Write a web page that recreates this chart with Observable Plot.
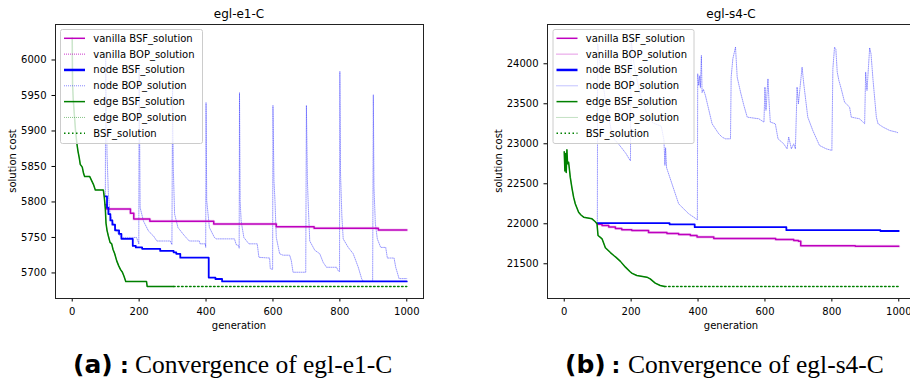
<!DOCTYPE html>
<html><head><meta charset="utf-8">
<script src="https://cdn.jsdelivr.net/npm/d3@7"></script>
<script src="https://cdn.jsdelivr.net/npm/@observablehq/plot@0.6"></script>
<style>
html,body{margin:0;padding:0;background:#fff;overflow:hidden;}
#root{position:relative;width:910px;height:381px;overflow:hidden;}
#root > svg{position:absolute;top:0;}
</style></head><body><div id="root"></div>
<script>
// ---------- data ----------
const panelTitles = ["egl-e1-C", "egl-s4-C"];
const captionTags = ["(a)", "(b)"];
const captionTexts = ["Convergence of egl-e1-C", "Convergence of egl-s4-C"];
const xLabel = "generation";
const yLabel = "solution cost";
const generationTicks = [0, 200, 400, 600, 800, 1000];
const e1CostTicks = [5700, 5750, 5800, 5850, 5900, 5950, 6000];
const s4CostTicks = [21500, 22000, 22500, 23000, 23500, 24000];
const legendLabels = ["vanilla BSF_solution", "vanilla BOP_solution", "node BSF_solution", "node BOP_solution", "edge BSF_solution", "edge BOP_solution", "BSF_solution"];

// egl-e1-C  [generation, cost]
const e1VanillaBSF = [[100,5796],[103,5790],[174,5784],[184,5776],[232,5773],[423,5769],[610,5765],[723,5763],[915,5760.5],[1000,5760.5]];
const e1NodeBSF = [[99,5808],[104,5792],[108,5783],[114,5774],[120,5768],[128,5760],[140,5755],[147,5748],[181,5738],[190,5736],[209,5734],[263,5731],[303,5729],[311,5727],[323,5721.5],[408,5693.5],[428,5691.5],[448,5688],[1000,5688]];
const e1EdgeBSF = [[0,6031],[1,5965],[3,5945],[6,5925],[10,5900],[14,5882],[17,5872],[21,5862],[24,5853],[30,5849],[34,5840],[37,5836],[52,5836],[58,5830],[64,5824],[69,5817],[93,5817],[96,5806],[99,5790],[101,5770],[104,5760],[108,5752],[113,5743],[118,5741],[122,5733],[127,5727],[133,5717],[139,5710],[144,5705],[150,5701],[155,5695],[160,5688],[222,5688],[224,5681],[303,5681]];
const e1NodeBOP = [[99,5808],[100,6010],[102,5940],[104,5868],[108,5812],[113,5783],[123,5769],[138,5755],[148,5750],[192,5750],[198,5743],
 [199,5741],[200,5990],[202,5860],[203,5792],[213,5773],[228,5759],[243,5752],[253,5745],[293,5745],[298,5740],
 [300,5965],[302,5850],[306,5783],[316,5764],[331,5755],[340,5750],[350,5745],[380,5745],[382,5741],[398,5741],[399,5736],
 [400,5940],[402,5802],[410,5764],[425,5750],[430,5748],[485,5748],[490,5740],[498,5738],[499,5735],
 [500,5954],[502,5800],[505,5773],[513,5750],[528,5741],[553,5741],[558,5722],[590,5721],[592,5706],[599,5705],
 [600,5936],[603,5830],[606,5802],[610,5750],[620,5727],[630,5725],[650,5725],[655,5717],[660,5701],[698,5701],
 [700,5936],[703,5830],[706,5790],[710,5745],[725,5732],[740,5727],[750,5715],[760,5708],[790,5708],[795,5703],[799,5702],
 [800,5984],[802,5840],[806,5780],[810,5748],[825,5736],[840,5727],[855,5708],[865,5692],[870,5688],[898,5688],
 [900,5951],[902,5820],[906,5770],[912,5748],[922,5736],[937,5736],[942,5721],[962,5721],[967,5708],[977,5692],[1000,5692]];
const e1BestSolution = [[303,5681],[1000,5681]];

// egl-s4-C  [generation, cost]
const s4VanillaBSF = [[100,21995],[113,21979],[133,21960],[153,21940],[172,21925],[202,21917],[252,21890],[307,21877],[342,21867],[377,21854],[397,21835],[447,21815],[632,21805],[686,21790],[700,21783],[707,21725],[870,21718],[1000,21718]];
const s4NodeBSF = [[100,22008],[315,21992],[390,21958],[664,21920],[945,21910],[1000,21910]];
const s4EdgeBSF = [[0,22900],[2,22660],[4,22880],[6,22640],[8,22925],[10,22750],[13,22770],[15,22700],[18,22583],[23,22450],[28,22333],[33,22250],[43,22145],[50,22110],[58,22083],[83,22062],[93,22025],[98,22000],[101,21854],[108,21830],[113,21812],[123,21700],[138,21640],[148,21604],[155,21580],[168,21530],[183,21458],[197,21400],[203,21380],[217,21354],[247,21333],[257,21312],[272,21258],[287,21229],[300,21217]];
const s4NodeBOP = [[99,22008],[100,24250],[110,23900],[125,23500],[140,23180],[150,23050],[160,23010],[175,22930],[185,22875],[197,22790],
 [198,22790],[200,24300],[210,23950],[225,23650],[245,23400],[265,23260],[290,23220],[298,23050],[301,22730],[303,22950],[306,22700],[322,22500],[332,22375],[342,22250],[357,22187],[372,22125],[387,22083],[398,22050],
 [399,23875],[402,23730],[405,23850],[407,23700],[410,24104],[412,23640],[416,23680],[422,23604],[442,23250],[452,23187],[462,23125],[472,23083],[482,23062],[497,23062],
 [499,23833],[504,24062],[512,24208],[517,23833],[527,23646],[537,23479],[547,23333],[582,23312],[597,23270],
 [600,23708],[603,23417],[609,23812],[612,23542],[616,23271],[631,23250],[639,23062],[656,23000],[666,22937],[671,23083],[679,22937],[686,23000],[691,22937],
 [696,23708],[700,23500],[711,23958],[716,23750],[728,23333],[743,23166],[763,22979],[783,22937],[800,22917],
 [803,23937],[808,24208],[812,24180],[816,23896],[821,23791],[828,23687],[838,23520],[853,23458],[858,23333],[883,23312],[898,23250],
 [901,23896],[905,23666],[913,24200],[917,24125],[923,23800],[933,23333],[938,23250],[953,23208],[973,23166],[993,23146],[1000,23133]];
const s4BestSolution = [[300,21217],[1000,21217]];

// ---------- styles ----------
const MAG = "#bf00bf", BLUE = "#0000ff", GREEN = "#008000";
const X = d => d[0], Y = d => d[1];

function panel(cfg) {
  return Plot.plot({
    width: cfg.width, height: 330,
    marginLeft: cfg.marginLeft, marginRight: cfg.marginRight, marginTop: 24, marginBottom: 32,
    x: {domain: [-50, 1050], ticks: generationTicks, tickSize: 3.5, tickFormat: d => String(d), label: null},
    y: {domain: cfg.yDomain, ticks: cfg.yTicks, tickSize: 3.5, tickFormat: d => String(d), label: null},
    style: {fontFamily: "DejaVu Sans", fontSize: "10px", color: "#000", background: "transparent", overflow: "visible"},
    marks: [
      Plot.line(cfg.nodeBOP, {x: X, y: Y, stroke: BLUE, strokeWidth: 0.8, strokeOpacity: 0.5, strokeDasharray: "1,1.2"}),
      Plot.line(cfg.vanillaBSF, {x: X, y: Y, curve: "step-after", stroke: MAG, strokeWidth: 1.5}),
      Plot.line(cfg.vanillaBSF, {x: X, y: Y, curve: "step-after", stroke: MAG, strokeWidth: 3, strokeOpacity: 0.18}),
      Plot.line(cfg.nodeBSF, {x: X, y: Y, curve: "step-after", stroke: BLUE, strokeWidth: 1.8}),
      Plot.line(cfg.edgeBSF, {x: X, y: Y, stroke: GREEN, strokeWidth: 1.5}),
      Plot.line(cfg.edgeBSF, {x: X, y: Y, stroke: GREEN, strokeWidth: 0.7, strokeOpacity: 0.5, strokeDasharray: "1,1"}),
      Plot.line(cfg.best, {x: X, y: Y, stroke: GREEN, strokeWidth: 1.5, strokeDasharray: "1.5,2.5"}),
      Plot.frame({stroke: "#222", strokeWidth: 1})
    ]
  });
}

const root = document.getElementById("root");
const p1 = panel({width: 455, marginLeft: 55, marginRight: 32, yDomain: [5664, 6050], yTicks: e1CostTicks,
  vanillaBSF: e1VanillaBSF, nodeBSF: e1NodeBSF, edgeBSF: e1EdgeBSF, nodeBOP: e1NodeBOP, best: e1BestSolution});
p1.style.left = "0px";
root.appendChild(p1);
const p2 = panel({width: 470, marginLeft: 92, marginRight: 10, yDomain: [21066, 24491], yTicks: s4CostTicks,
  vanillaBSF: s4VanillaBSF, nodeBSF: s4NodeBSF, edgeBSF: s4EdgeBSF, nodeBOP: s4NodeBOP, best: s4BestSolution});
p2.style.left = "455px";
root.appendChild(p2);

// ---------- overlay: titles, axis labels, legends, captions ----------
const ov = d3.select(root).append("svg").attr("width", 910).attr("height", 381)
  .style("left", "0px").style("font-family", "DejaVu Sans");

const panels = [
  {frameL: 55, frameR: 423, ylabX: 12.5, legX: 60, legW: 142},
  {frameL: 547, frameR: 915, ylabX: 498, legX: 552.5, legW: 141}
];
const legendStyles = [
  {stroke: MAG, w: 1.5, dash: null, op: 1},
  {stroke: MAG, w: 0.8, dash: "1,1", op: 1},
  {stroke: BLUE, w: 2.5, dash: null, op: 1},
  {stroke: BLUE, w: 0.8, dash: "1,1", op: 0.6},
  {stroke: GREEN, w: 1.5, dash: null, op: 1},
  {stroke: GREEN, w: 0.8, dash: "1,1", op: 0.6},
  {stroke: GREEN, w: 1.5, dash: "1.5,2.5", op: 1}
];

panels.forEach((p, i) => {
  const cx = (p.frameL + p.frameR) / 2;
  ov.append("text").attr("x", cx).attr("y", 14).attr("dy", "0.35em").attr("text-anchor", "middle")
    .attr("font-size", 12).text(panelTitles[i]);
  ov.append("text").attr("x", cx).attr("y", 325).attr("dy", "0.35em").attr("text-anchor", "middle")
    .attr("font-size", 10).text(xLabel);
  ov.append("text").attr("transform", `translate(${p.ylabX},161) rotate(-90)`).attr("dy", "0.35em")
    .attr("text-anchor", "middle").attr("font-size", 10).text(yLabel);
  const g = ov.append("g");
  g.append("rect").attr("x", p.legX + 0.5).attr("y", 29.5).attr("width", p.legW).attr("height", 114)
    .attr("rx", 2).attr("fill", "#fff").attr("fill-opacity", 0.8).attr("stroke", "#ccc").attr("stroke-width", 1);
  legendLabels.forEach((lab, j) => {
    const yy = 38.3 + j * 15.83;
    const s = legendStyles[j];
    g.append("line").attr("x1", p.legX + 4).attr("x2", p.legX + 25).attr("y1", yy).attr("y2", yy)
      .attr("stroke", s.stroke).attr("stroke-width", s.w).attr("stroke-opacity", s.op)
      .attr("stroke-dasharray", s.dash);
    g.append("text").attr("x", p.legX + 33.3).attr("y", yy).attr("dy", "0.35em").attr("font-size", 10).text(lab);
  });
});

const caps = [{tagX: 73, colonX: 124.5, textX: 135}, {tagX: 565, colonX: 616, textX: 628}];
caps.forEach((c, i) => {
  ov.append("text").attr("x", c.tagX).attr("y", 373).attr("font-family", "DejaVu Sans").attr("font-weight", "bold")
    .attr("font-size", 25).text(captionTags[i]);
  ov.append("text").attr("x", c.colonX).attr("y", 373).attr("text-anchor", "middle").attr("font-family", "DejaVu Sans")
    .attr("font-weight", "bold").attr("font-size", 22).text(":");
  ov.append("text").attr("x", c.textX).attr("y", 373).attr("font-family", "Liberation Serif")
    .attr("font-size", 25.5).text(captionTexts[i]);
});
</script></body></html>
